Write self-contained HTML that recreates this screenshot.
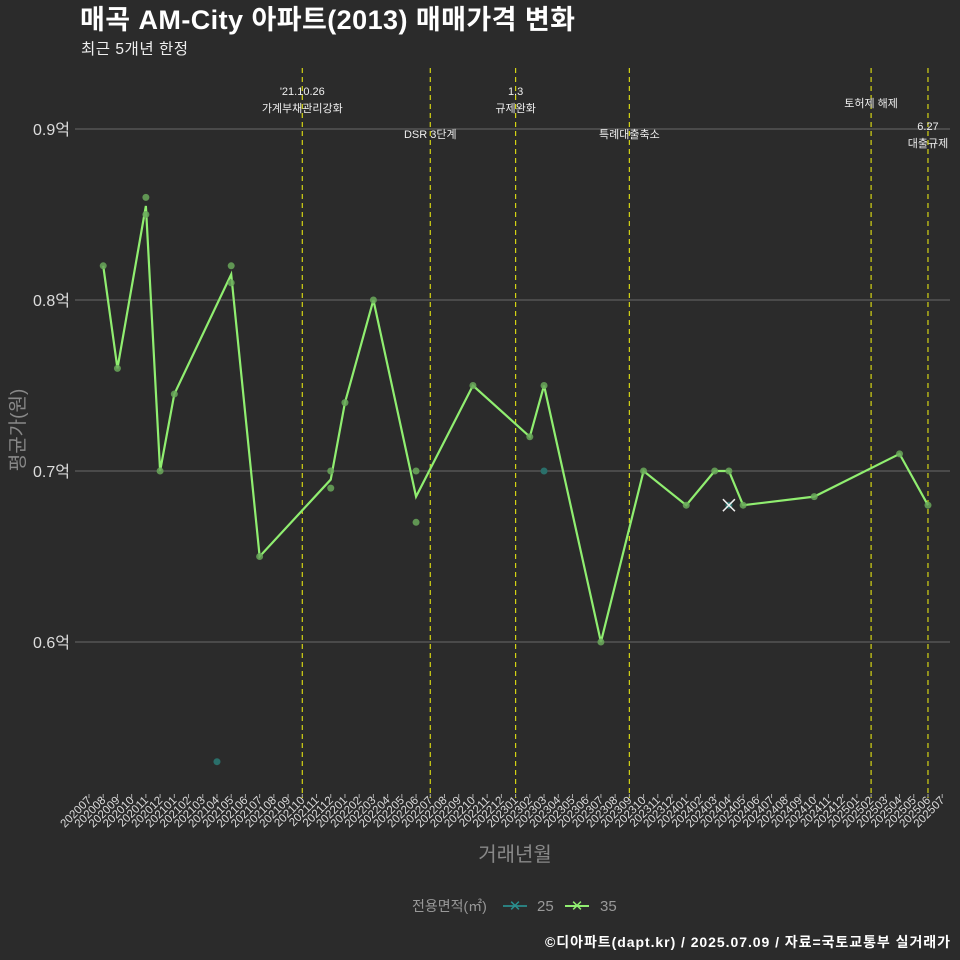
<!DOCTYPE html>
<html><head><meta charset="utf-8"><style>
body{margin:0;background:#2b2b2b;}
svg{display:block;font-family:"Liberation Sans","Noto Sans CJK KR",sans-serif;}
</style></head><body>
<svg id="c" width="960" height="960" viewBox="0 0 960 960">
<rect width="960" height="960" fill="#2b2b2b"/>
<text x="80" y="29" font-size="27" font-weight="bold" fill="#fff" textLength="495">매곡 AM-City 아파트(2013) 매매가격 변화</text>
<text x="81" y="54" font-size="15.5" fill="#eee" textLength="107">최근 5개년 한정</text>
<text x="0" y="0" transform="translate(24,430) rotate(-90)" text-anchor="middle" font-size="19" fill="#888">평균가(원)</text>
<text x="515" y="861" text-anchor="middle" font-size="20" fill="#888">거래년월</text>
<g>
<text x="412" y="911" font-size="14" fill="#999">전용면적(㎡)</text>
<g><line x1="503" y1="906" x2="527" y2="906" stroke="#2a7f7f" stroke-width="2"/><text x="515" y="911" text-anchor="middle" font-size="15" fill="#2a8f8f">✕</text><text x="537" y="911" font-size="15" fill="#999">25</text></g>
<g><line x1="565" y1="906" x2="589" y2="906" stroke="#90ee70" stroke-width="2"/><text x="577" y="911" text-anchor="middle" font-size="15" fill="#90ee70">✕</text><text x="600" y="911" font-size="15" fill="#999">35</text></g>
</g>
<text x="950" y="947" text-anchor="end" font-size="14" font-weight="bold" fill="#fff" textLength="405">©디아파트(dapt.kr) / 2025.07.09 / 자료=국토교통부 실거래가</text>
<g id="plot"></g>
</svg>
<script>
const months=["202007","202008","202009","202010","202011","202012","202101","202102","202103","202104","202105","202106","202107","202108","202109","202110","202111","202112","202201","202202","202203","202204","202205","202206","202207","202208","202209","202210","202211","202212","202301","202302","202303","202304","202305","202306","202307","202308","202309","202310","202311","202312","202401","202402","202403","202404","202405","202406","202407","202408","202409","202410","202411","202412","202501","202502","202503","202504","202505","202506","202507"];
const yTicks=[0.6,0.7,0.8,0.9];
const line35M=["202008","202009","202011","202012","202101","202105","202107","202112","202201","202203","202206","202210","202302","202303","202307","202310","202401","202403","202404","202405","202410","202504","202506"];
const line35V=[0.82,0.76,0.855,0.70,0.745,0.815,0.65,0.695,0.74,0.80,0.685,0.75,0.72,0.75,0.60,0.70,0.68,0.70,0.70,0.68,0.685,0.71,0.68];
const pts35M=["202008","202009","202011","202011","202012","202101","202105","202105","202107","202112","202112","202201","202203","202206","202206","202210","202302","202303","202307","202310","202401","202403","202404","202405","202410","202504","202506"];
const pts35V=[0.82,0.76,0.86,0.85,0.70,0.745,0.82,0.81,0.65,0.70,0.69,0.74,0.80,0.70,0.67,0.75,0.72,0.75,0.60,0.70,0.68,0.70,0.70,0.68,0.685,0.71,0.68];
const pts25M=["202104","202303","202404"];
const pts25V=[0.53,0.70,0.68];
const evM=["202110","202207","202301","202309","202502","202506"];
const evL1=["'21.10.26","","1.3","","",""];
const evL2=["가계부채관리강화","DSR 3단계","규제완화","특례대출축소","토허제 해제","대출규제"];
const evL1b=["","","","","","6.27"];
const evY=[108,134,108,134,103,143];
const X=m=>89+months.indexOf(m)*14.22;
const Y=v=>471-(v-0.7)*1710;
const g=document.getElementById('plot');
const NS="http://www.w3.org/2000/svg";
function mk(t,a,p){const e=document.createElementNS(NS,t);for(const k in a)e.setAttribute(k,a[k]);(p||g).appendChild(e);return e;}
yTicks.forEach(v=>{
 const l=mk('line',{x1:75,x2:950,y1:Y(v),y2:Y(v),stroke:'#6a6a6a','stroke-width':1});
 
 
 const t=mk('text',{x:70,y:Y(v)+6,'text-anchor':'end','font-size':16,fill:'#ddd'});t.textContent=v.toFixed(1)+'억';
 
 
});
months.forEach(m=>{
 const x=X(m);
 const tk=mk('line',{x1:x,x2:x,y1:794,y2:798,stroke:'#aaa'});
 
 
 const t=mk('text',{x:0,y:0,transform:`translate(${x+3},${801}) rotate(-45)`,'text-anchor':'end','font-size':11.5,fill:'#ddd'});t.textContent=m;
 
 
});
evM.forEach((m,i)=>{
 const x=X(m);
 const l=mk('line',{x1:x,x2:x,y1:68,y2:798,stroke:'#d4d414','stroke-width':1.2,'stroke-dasharray':'5,4'});
 
 
 const lines=[evL1[i]||evL1b[i],evL2[i]].filter(s=>s);
 lines.forEach((s,j)=>{
  const t=mk('text',{x:x,y:evY[i]-(lines.length-1-j)*17+4,'text-anchor':'middle','font-size':11,fill:'#eee'});t.textContent=s;
  
  
 });
});
const path=mk('polyline',{points:line35M.map((m,i)=>X(m)+','+Y(line35V[i])).join(' '),fill:'none',stroke:'#90ee70','stroke-width':2.2});


pts35M.forEach((m,i)=>{
 const c=mk('circle',{cx:X(m),cy:Y(pts35V[i]),r:3.5,fill:'#6aa85a','fill-opacity':0.85});
 
 
});
pts25M.forEach((m,i)=>{
 const c=mk('circle',{cx:X(m),cy:Y(pts25V[i]),r:3.5,fill:'#2a6f6a'});
 
 
});
const xm=X("202404"),ym=Y(0.68);
const mx=mk('path',{d:`M${xm-6},${ym-6}L${xm+6},${ym+6}M${xm-6},${ym+6}L${xm+6},${ym-6}`,stroke:'#f0f0f0','stroke-width':1.5});


</script>
</body></html>
